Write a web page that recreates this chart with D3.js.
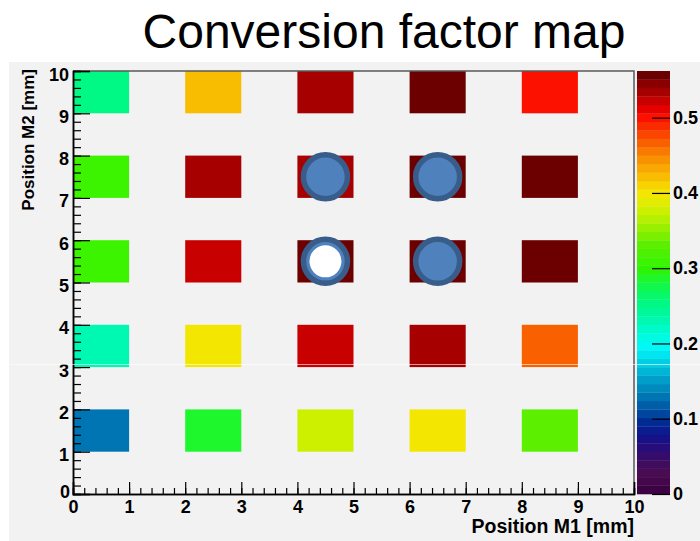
<!DOCTYPE html>
<html>
<head>
<meta charset="utf-8">
<script src="https://cdn.jsdelivr.net/npm/d3@7"></script>
<style>
  html, body { margin: 0; padding: 0; background: #ffffff; }
  svg { display: block; }
  text { font-family: "Liberation Sans", Arial, Helvetica, sans-serif; }
</style>
</head>
<body>
<svg id="chart" width="700" height="541"></svg>
<script>
// Bin lower edges along each position axis (bin width = 1 mm)
const posM1 = [0, 2, 4, 6, 8];
const posM2 = [1, 3, 5, 7, 9];

// Conversion factor per bin, one array per M2 row (bottom to top), ordered by M1
const factorM2_1 = [0.130, 0.290, 0.380, 0.400, 0.330];
const factorM2_3 = [0.232, 0.400, 0.522, 0.535, 0.468];
const factorM2_5 = [0.310, 0.522, 0.556, 0.556, 0.556];
const factorM2_7 = [0.310, 0.535, 0.535, 0.552, 0.556];
const factorM2_9 = [0.252, 0.421, 0.535, 0.558, 0.500];
const factorRows = [factorM2_1, factorM2_3, factorM2_5, factorM2_7, factorM2_9];

// Highlighted measurement points [M1, M2, hollow]
const markers = [[4.5, 7.5, false], [6.5, 7.5, false], [4.5, 5.5, true], [6.5, 5.5, false]];

// Axis ranges and colour-bar ticks
const xDomain = [0, 10];
const yDomain = [0, 10];
const zMax = 0.562;
const nColors = 50;
const zTicks = [0, 0.1, 0.2, 0.3, 0.4, 0.5];

// Rainbow palette (value -> colour), violet at the bottom, dark red at the top
const paletteStops = [
  [0.000, "#3a0040"], [0.030, "#4a0c52"], [0.055, "#300c70"], [0.075, "#14108a"],
  [0.095, "#002a92"], [0.115, "#0058a6"], [0.135, "#0080b8"], [0.155, "#00a4cc"],
  [0.175, "#00d0e4"], [0.195, "#00f8fa"], [0.210, "#00fce0"], [0.235, "#00f8a8"],
  [0.255, "#00f880"], [0.280, "#14f840"], [0.300, "#30f400"], [0.330, "#58f000"],
  [0.360, "#a8f000"], [0.380, "#d4f000"], [0.400, "#f5e600"], [0.420, "#f8c000"],
  [0.440, "#f89a00"], [0.460, "#f87000"], [0.480, "#fa4000"], [0.500, "#fc1000"],
  [0.512, "#e40000"], [0.523, "#c80000"], [0.534, "#a60000"], [0.545, "#8a0000"],
  [0.556, "#6c0000"]
];

const W = 700, H = 541;
const plot = { left: 73, right: 634, top: 71, bottom: 494 };
const bar = { left: 637, right: 670 };

const svg = d3.select("#chart");

// Canvas: white strip at top/left, grey pad
svg.append("rect").attr("width", W).attr("height", H).attr("fill", "#ffffff");
svg.append("rect").attr("x", 9).attr("y", 62).attr("width", W - 9).attr("height", H - 62)
  .attr("fill", "#f2f2f2");

const x = d3.scaleLinear().domain(xDomain).range([plot.left, plot.right]);
const y = d3.scaleLinear().domain(yDomain).range([plot.bottom, plot.top]);
const z = d3.scaleLinear().domain([0, zMax]).range([plot.bottom, plot.top]);

const smooth = d3.scaleLinear()
  .domain(paletteStops.map(d => d[0]))
  .range(paletteStops.map(d => d[1]))
  .interpolate(d3.interpolateRgb)
  .clamp(true);
const step = zMax / nColors;
const bandColor = i => smooth((i + 0.5) * step);
const colorOf = v => bandColor(Math.max(0, Math.min(nColors - 1, Math.floor(v / step))));

// Histogram cells
const cells = [];
factorRows.forEach((row, r) => row.forEach((v, c) => cells.push({ m1: posM1[c], m2: posM2[r], v })));
svg.append("g").selectAll("rect").data(cells).join("rect")
  .attr("x", d => x(d.m1))
  .attr("y", d => y(d.m2 + 1))
  .attr("width", d => x(d.m1 + 1) - x(d.m1))
  .attr("height", d => y(d.m2) - y(d.m2 + 1))
  .attr("fill", d => colorOf(d.v));

// Frame top/right
svg.append("path")
  .attr("d", `M${plot.left},${plot.top}H${plot.right}V${plot.bottom}`)
  .attr("fill", "none").attr("stroke", "#5a5a5a").attr("stroke-width", 1.5);

// Axes: major + minor inward ticks
const styleAxis = g => {
  g.select(".domain").attr("stroke", "#000").attr("stroke-width", 1.5);
  g.selectAll(".tick line").attr("stroke", "#000").attr("stroke-width", 1.2);
  g.selectAll(".tick text").attr("fill", "#000")
    .style("font-size", "18px").style("font-weight", "bold")
    .style("font-family", "'Liberation Sans', Arial, sans-serif");
};
const minorVals = d3.range(0, 50.5, 1).map(i => i * 0.2);

svg.append("g").attr("transform", `translate(0,${plot.bottom})`)
  .call(d3.axisBottom(x).tickValues(minorVals).tickSize(-6).tickFormat(""))
  .call(styleAxis);
svg.append("g").attr("transform", `translate(0,${plot.bottom})`)
  .call(d3.axisBottom(x).ticks(10).tickSize(-12).tickPadding(6).tickFormat(d3.format("d")))
  .call(styleAxis);

svg.append("g").attr("transform", `translate(${plot.left},0)`)
  .call(d3.axisLeft(y).tickValues(minorVals).tickSize(-8).tickFormat(""))
  .call(styleAxis);
const yAx = svg.append("g").attr("transform", `translate(${plot.left},0)`)
  .call(d3.axisLeft(y).ticks(10).tickSize(-17).tickPadding(4).tickFormat(d3.format("d")))
  .call(styleAxis);
yAx.selectAll(".tick text").attr("dy", "0.5em");
yAx.selectAll(".tick").filter(d => d === 0).select("text").attr("x", -3).attr("dy", "0.2em");

// Axis titles
svg.append("text").attr("x", plot.right).attr("y", 533).attr("text-anchor", "end")
  .style("font-size", "19.5px").style("font-weight", "bold").text("Position M1 [mm]");
svg.append("text").attr("transform", `translate(34,${plot.top - 2}) rotate(-90)`)
  .attr("text-anchor", "end")
  .style("font-size", "17px").style("font-weight", "bold").text("Position M2 [mm]");

// Title
svg.append("text").attr("x", 384).attr("y", 48).attr("text-anchor", "middle")
  .style("font-size", "48px").style("fill", "#000").text("Conversion factor map");

// Colour bar: 50 discrete bands
svg.append("g").selectAll("rect").data(d3.range(nColors)).join("rect")
  .attr("x", bar.left)
  .attr("y", i => z((i + 1) * step))
  .attr("width", bar.right - bar.left)
  .attr("height", i => z(i * step) - z((i + 1) * step) + 0.3)
  .attr("fill", i => bandColor(i));

const zAx = svg.append("g").attr("transform", `translate(${bar.right},0)`)
  .call(d3.axisRight(z).tickValues(zTicks).tickSize(-18).tickPadding(3)
    .tickFormat(d => d === 0 ? "0" : d3.format(".1f")(d)));
zAx.select(".domain").remove();
zAx.selectAll(".tick line").attr("stroke", "#000").attr("stroke-width", 1.2);
zAx.selectAll(".tick text").attr("fill", "#000")
  .style("font-size", "18px").style("font-weight", "bold");

// Highlighted points
const mk = svg.append("g").selectAll("g").data(markers).join("g")
  .attr("transform", d => `translate(${x(d[0])},${y(d[1])})`);
mk.append("circle").attr("r", 22)
  .attr("fill", "#4f81bd").attr("stroke", "#385d8a").attr("stroke-width", 5.5);
mk.filter(d => d[2]).append("circle").attr("r", 16).attr("fill", "#ffffff");

// Thin light seam across the pad
svg.append("line").attr("x1", 0).attr("x2", W).attr("y1", 364.5).attr("y2", 364.5)
  .attr("stroke", "#ffffff").attr("stroke-opacity", 0.6).attr("stroke-width", 1);
</script>
</body>
</html>
